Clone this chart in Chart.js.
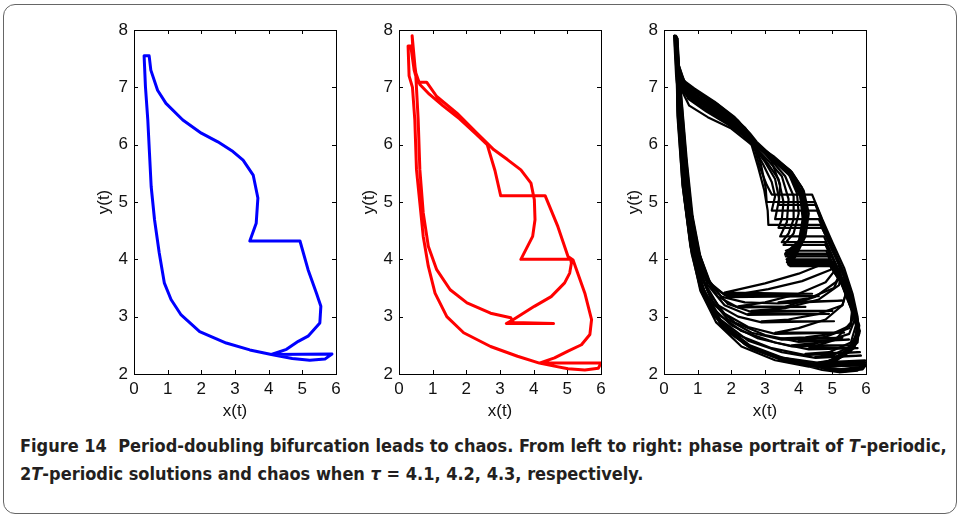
<!DOCTYPE html>
<html>
<head>
<meta charset="utf-8">
<script src="https://cdn.jsdelivr.net/npm/chart.js@4.4.1/dist/chart.umd.min.js"></script>
<style>
  body { margin: 0; background: #fff; width: 959px; height: 517px; overflow: hidden; position: relative; }
  .outline { position: absolute; left: 3px; top: 4px; width: 952px; height: 508px; border: 1.5px solid #666; border-radius: 12px; }
  canvas { position: absolute; top: 0; }
  #caption { position: absolute; left: 20px; top: 432px; font-family: "Liberation Sans Narrow", "DejaVu Sans Condensed", sans-serif; font-weight: bold; font-size: 18px; line-height: 28px; color: #231f20; white-space: nowrap; }
</style>
</head>
<body>
<div class="outline"></div>
<canvas id="p1" width="272" height="424" style="left:74px"></canvas>
<canvas id="p2" width="272" height="424" style="left:339px"></canvas>
<canvas id="p3" width="272" height="424" style="left:604px"></canvas>
<div id="caption">Figure 14&nbsp; Period-doubling bifurcation leads to chaos. From left to right: phase portrait of <i>T</i>-periodic,<br>2<i>T</i>-periodic solutions and chaos when <i>τ</i> = 4.1, 4.2, 4.3, respectively.</div>
<script>
// axis ticks shared by all three panels
var xTicks = [0, 1, 2, 3, 4, 5, 6];
var yTicks = [2, 3, 4, 5, 6, 7, 8];
var xTitle = "x(t)";
var yTitle = "y(t)";

// tau = 4.1 : T-periodic orbit
var orbitT = [
  [0.3,7.55],[0.45,7.55],[0.5,7.3],[0.7,6.95],[0.95,6.72],[1.45,6.43],[2.0,6.2],[2.49,6.05],
  [2.94,5.88],[3.24,5.73],[3.54,5.47],[3.68,5.07],[3.63,4.63],[3.44,4.32],[4.93,4.32],[5.17,3.82],
  [5.42,3.41],[5.55,3.18],[5.52,2.89],[5.17,2.66],[4.88,2.57],[4.53,2.43],[4.08,2.34],[5.88,2.35],
  [5.67,2.26],[5.22,2.24],[4.7,2.27],[4.08,2.34],[3.44,2.42],[2.74,2.54],[1.95,2.74],[1.4,3.03],
  [1.1,3.3],[0.9,3.59],[0.75,4.11],[0.61,4.69],[0.51,5.27],[0.46,5.85],[0.41,6.43],[0.34,7.01],[0.3,7.55]
];

// tau = 4.2 : 2T-periodic orbit
var orbit2T = [
  [0.39,7.9],[0.42,7.6],[0.5,7.25],[0.62,7.05],[0.9,6.88],[1.3,6.68],[1.8,6.45],[2.3,6.18],[2.62,6.0],
  [2.85,5.55],[3.02,5.11],[4.34,5.11],[4.72,4.57],[5.02,4.05],[5.17,3.99],[5.52,3.41],[5.72,2.95],
  [5.67,2.69],[5.42,2.51],[5.02,2.4],[4.62,2.28],[4.17,2.19],[6.0,2.19],[5.92,2.1],[5.52,2.07],
  [5.02,2.09],[4.5,2.15],[4.17,2.19],[3.52,2.31],[2.72,2.48],[1.92,2.72],[1.42,3.0],[1.07,3.41],
  [0.87,3.88],[0.72,4.4],[0.62,4.98],[0.52,5.56],[0.47,6.43],[0.4,7.0],[0.3,7.2],[0.27,7.72],
  [0.35,7.72],[0.45,7.3],[0.55,7.09],[0.82,7.09],[1.12,6.84],[1.72,6.55],[2.32,6.2],[2.82,5.91],
  [3.22,5.74],[3.62,5.56],[3.92,5.33],[4.02,5.04],[4.04,4.69],[3.97,4.4],[3.62,4.0],[5.1,4.0],
  [5.12,3.93],[5.07,3.76],[4.92,3.59],[4.52,3.35],[4.02,3.18],[3.4,2.95],[3.19,2.88],[4.59,2.88],
  [3.4,2.9],[3.32,2.98],[2.72,3.06],[2.02,3.24],[1.52,3.47],[1.12,3.82],[0.87,4.23],[0.72,4.81],
  [0.62,5.56],[0.57,6.43],[0.5,7.2],[0.39,7.9]
];

// tau = 4.3 : chaotic trajectory, traced loop by loop
var chaosLoops = [
  [[0.35,7.88],[0.4,7.4],[0.55,7.1],[0.85,6.95],[1.4,6.72],[2.0,6.45],[2.5,6.15],[2.65,6.02],[2.85,5.6],[3.05,5.3],[3.2,5.13],[4.4,5.13],[4.7,4.7],[5.0,4.3],[5.35,3.85],[5.6,3.4],[5.75,3.0],[5.78,2.75],[5.5,2.45],[5.0,2.25],[4.5,2.15],[5.98,2.2],[5.85,2.1],[5.3,2.06],[4.8,2.09],[4.5,2.15],[3.5,2.26],[2.5,2.48],[1.7,2.85],[1.2,3.35],[0.85,4.1],[0.6,5.2],[0.42,6.5],[0.35,7.88]],
  [[0.33,7.9],[0.42,7.3],[0.7,7.02],[1.2,6.85],[1.8,6.6],[2.4,6.3],[2.7,6.05],[2.9,5.6],[3.02,5.25],[3.05,5.0],[4.48,5.0],[4.75,4.6],[5.0,4.2],[5.2,3.9],[4.8,3.6],[4.0,3.4],[3.0,3.25],[2.2,3.18],[4.2,3.17],[2.2,3.16],[1.6,3.35],[1.2,3.7],[0.9,4.3],[0.7,5.1],[0.56,6.1],[0.44,7.0],[0.33,7.9]],
  [[0.3,7.9],[0.36,7.2],[0.6,6.9],[1.0,6.72],[1.6,6.5],[2.2,6.25],[2.6,6.02],[2.95,5.65],[3.2,5.35],[3.3,5.1],[3.2,4.85],[4.55,4.85],[4.85,4.4],[5.15,4.0],[5.4,3.6],[5.6,3.2],[5.55,2.9],[5.1,2.6],[4.3,2.45],[5.75,2.45],[4.3,2.43],[3.3,2.55],[2.3,2.75],[1.6,3.05],[1.15,3.5],[0.85,4.2],[0.62,5.2],[0.47,6.3],[0.3,7.9]],
  [[0.4,7.85],[0.48,7.0],[0.75,6.68],[1.3,6.48],[2.0,6.28],[2.6,6.0],[3.0,5.7],[3.3,5.4],[3.42,5.05],[3.3,4.7],[4.6,4.7],[4.9,4.3],[5.2,3.9],[5.25,3.75],[5.1,3.6],[4.5,3.35],[3.5,3.15],[2.5,3.05],[4.9,3.05],[2.5,3.03],[1.8,3.2],[1.3,3.55],[0.95,4.1],[0.75,4.9],[0.6,5.9],[0.45,7.0],[0.4,7.85]],
  [[0.35,7.88],[0.4,7.35],[0.6,7.05],[0.95,6.9],[1.5,6.68],[2.1,6.4],[2.6,6.05],[3.05,5.7],[3.4,5.4],[3.55,5.0],[3.5,4.7],[3.4,4.55],[4.7,4.55],[5.0,4.15],[5.3,3.8],[5.45,3.5],[5.3,3.2],[4.8,2.95],[4.0,2.8],[3.3,2.72],[5.35,2.72],[3.3,2.7],[2.5,2.82],[1.8,3.05],[1.3,3.45],[0.95,4.0],[0.72,4.9],[0.55,6.0],[0.42,7.0],[0.35,7.88]],
  [[0.32,7.9],[0.38,7.25],[0.62,6.95],[1.05,6.78],[1.7,6.55],[2.3,6.25],[2.65,6.0],[3.1,5.72],[3.5,5.45],[3.7,5.05],[3.65,4.65],[3.45,4.4],[4.75,4.4],[5.05,4.0],[5.35,3.6],[5.6,3.2],[5.65,3.05],[5.5,2.8],[4.8,2.65],[4.0,2.58],[5.5,2.6],[4.0,2.56],[3.0,2.68],[2.1,2.9],[1.5,3.2],[1.1,3.7],[0.82,4.5],[0.62,5.5],[0.46,6.7],[0.32,7.9]],
  [[0.38,7.86],[0.45,7.2],[0.68,6.85],[1.2,6.62],[1.9,6.38],[2.5,6.1],[2.7,6.0],[3.2,5.75],[3.7,5.5],[3.95,5.15],[4.0,4.8],[3.85,4.45],[3.55,4.25],[4.8,4.25],[4.95,4.05],[4.85,3.95],[4.0,3.75],[3.0,3.58],[1.8,3.42],[4.4,3.4],[1.8,3.38],[1.35,3.6],[1.05,4.1],[0.82,4.8],[0.65,5.8],[0.5,6.9],[0.38,7.86]],
  [[0.36,7.88],[0.4,7.45],[0.58,7.12],[0.9,6.98],[1.5,6.75],[2.1,6.48],[2.55,6.2],[2.75,6.05],[3.3,5.75],[3.8,5.45],[4.1,5.1],[4.2,4.7],[4.05,4.35],[3.6,4.1],[4.85,4.1],[5.15,3.75],[5.45,3.3],[5.7,2.95],[5.75,2.7],[5.45,2.42],[4.9,2.22],[4.4,2.18],[5.95,2.22],[5.8,2.12],[5.2,2.08],[4.7,2.12],[4.4,2.18],[3.4,2.3],[2.4,2.52],[1.6,2.95],[1.1,3.5],[0.8,4.2],[0.55,5.3],[0.4,6.5],[0.36,7.88]],
  [[0.33,7.9],[0.4,7.3],[0.65,7.0],[1.1,6.8],[1.7,6.55],[2.3,6.28],[2.65,6.05],[3.25,5.78],[3.75,5.52],[4.05,5.2],[4.2,4.8],[4.1,4.4],[3.85,4.1],[3.65,3.95],[4.9,3.95],[5.2,3.7],[5.05,3.5],[4.3,3.32],[3.4,3.25],[5.3,3.28],[3.4,3.23],[2.4,3.25],[1.7,3.35],[1.25,3.7],[0.95,4.3],[0.75,5.1],[0.6,6.1],[0.45,7.1],[0.33,7.9]],
  [[0.4,7.85],[0.45,7.15],[0.72,6.8],[1.25,6.58],[1.9,6.35],[2.45,6.12],[2.7,6.02],[3.2,5.8],[3.75,5.55],[4.1,5.25],[4.25,4.85],[4.15,4.4],[3.9,4.08],[3.7,3.9],[4.92,3.9],[5.3,3.55],[5.55,3.15],[5.7,2.85],[5.55,2.55],[4.9,2.38],[4.2,2.35],[5.82,2.38],[4.2,2.33],[3.2,2.45],[2.2,2.68],[1.5,3.0],[1.1,3.45],[0.82,4.1],[0.6,5.1],[0.46,6.2],[0.4,7.85]],
  [[0.34,7.89],[0.41,7.35],[0.6,7.05],[1.0,6.9],[1.6,6.65],[2.2,6.35],[2.62,6.05],[3.25,5.72],[3.75,5.45],[4.05,5.1],[4.12,4.7],[4.0,4.3],[3.62,4.05],[4.88,4.05],[5.2,3.7],[5.4,3.4],[5.3,3.2],[4.6,3.05],[3.7,2.95],[2.9,2.92],[5.05,2.92],[2.9,2.9],[2.2,3.0],[1.6,3.2],[1.2,3.6],[0.92,4.2],[0.72,5.0],[0.58,6.0],[0.44,7.0],[0.34,7.89]],
  [[0.31,7.9],[0.37,7.3],[0.55,7.0],[0.9,6.82],[1.5,6.6],[2.1,6.33],[2.6,6.0],[2.8,5.6],[2.98,5.2],[3.08,4.85],[3.1,4.6],[4.65,4.6],[4.95,4.25],[5.3,3.8],[5.55,3.35],[5.75,2.95],[5.8,2.7],[5.55,2.4],[5.0,2.2],[4.6,2.12],[6.0,2.16],[5.9,2.08],[5.4,2.05],[4.9,2.07],[4.6,2.12],[3.6,2.22],[2.6,2.44],[1.75,2.8],[1.25,3.3],[0.88,4.05],[0.62,5.1],[0.45,6.4],[0.31,7.9]],
  [[0.37,7.87],[0.43,7.4],[0.62,7.08],[1.0,6.92],[1.6,6.7],[2.2,6.42],[2.6,6.12],[2.8,6.0],[3.2,5.7],[3.45,5.3],[3.4,4.95],[4.5,4.95],[4.8,4.5],[5.1,4.1],[5.4,3.7],[5.6,3.3],[5.7,3.0],[5.5,2.7],[4.7,2.55],[3.8,2.5],[5.6,2.5],[3.8,2.48],[2.8,2.62],[2.0,2.85],[1.45,3.15],[1.05,3.65],[0.8,4.4],[0.6,5.4],[0.45,6.6],[0.37,7.87]],
  [[0.35,7.88],[0.42,7.2],[0.66,6.88],[1.15,6.7],[1.8,6.45],[2.4,6.18],[2.7,6.0],[3.3,5.7],[3.85,5.42],[4.15,5.05],[4.2,4.6],[4.0,4.2],[3.68,3.92],[4.9,3.92],[5.3,3.6],[5.6,3.2],[5.8,2.85],[5.75,2.55],[5.3,2.3],[4.7,2.17],[5.95,2.18],[5.85,2.09],[5.3,2.04],[4.9,2.08],[4.7,2.17],[3.7,2.22],[2.7,2.42],[1.8,2.78],[1.3,3.25],[0.9,4.0],[0.62,5.1],[0.44,6.4],[0.35,7.88]],
  [[0.36,7.9],[0.43,7.25],[0.7,6.92],[1.2,6.74],[1.85,6.5],[2.45,6.2],[2.72,6.03],[3.28,5.76],[3.8,5.48],[4.12,5.15],[4.25,4.75],[4.12,4.4],[3.85,4.2],[3.62,4.15],[4.82,4.15],[5.2,3.72],[5.5,3.25],[5.72,2.9],[5.7,2.6],[5.35,2.36],[4.8,2.2],[4.3,2.13],[5.9,2.15],[5.75,2.06],[5.2,2.03],[4.7,2.07],[4.3,2.13],[3.3,2.24],[2.3,2.48],[1.55,2.9],[1.08,3.45],[0.78,4.25],[0.55,5.3],[0.4,6.6],[0.36,7.9]],
  [[0.34,7.88],[0.4,7.35],[0.6,7.0],[1.05,6.82],[1.7,6.58],[2.3,6.3],[2.65,6.05],[3.22,5.76],[3.72,5.5],[4.02,5.18],[4.15,4.78],[4.05,4.35],[3.8,4.08],[3.64,4.0],[4.88,4.0],[5.1,3.9],[4.95,3.82],[4.1,3.62],[3.1,3.48],[1.9,3.36],[4.6,3.36],[1.9,3.34],[1.4,3.55],[1.08,4.05],[0.85,4.75],[0.68,5.7],[0.52,6.8],[0.34,7.88]],
  [[0.38,7.87],[0.44,7.3],[0.66,6.95],[1.1,6.78],[1.75,6.52],[2.35,6.25],[2.68,6.03],[3.25,5.8],[3.8,5.52],[4.15,5.2],[4.3,4.8],[4.2,4.4],[3.95,4.1],[3.75,3.88],[4.95,3.88],[5.35,3.5],[5.6,3.1],[5.55,2.85],[5.0,2.7],[4.2,2.64],[3.5,2.62],[5.3,2.63],[3.5,2.6],[2.6,2.72],[1.9,2.95],[1.4,3.3],[1.02,3.85],[0.78,4.6],[0.6,5.6],[0.45,6.8],[0.38,7.87]],
  [[0.32,7.9],[0.38,7.4],[0.57,7.08],[0.92,6.92],[1.55,6.68],[2.15,6.4],[2.58,6.1],[2.76,6.0],[3.2,5.72],[3.6,5.45],[3.85,5.1],[3.85,4.7],[3.7,4.45],[3.5,4.3],[4.78,4.3],[5.1,3.9],[5.4,3.45],[5.65,3.05],[5.82,2.75],[5.65,2.45],[5.15,2.25],[4.55,2.2],[5.97,2.24],[5.9,2.12],[5.45,2.07],[4.95,2.1],[4.55,2.2],[3.55,2.28],[2.55,2.5],[1.72,2.88],[1.22,3.4],[0.86,4.15],[0.62,5.2],[0.44,6.5],[0.32,7.9]],
  [[0.37,7.88],[0.44,7.2],[0.68,6.88],[1.2,6.68],[1.85,6.44],[2.42,6.16],[2.7,6.02],[3.28,5.74],[3.78,5.46],[4.08,5.12],[4.18,4.72],[4.05,4.32],[3.78,4.12],[3.6,4.08],[4.86,4.08],[5.25,3.72],[5.2,3.55],[4.6,3.3],[3.6,3.15],[2.6,3.1],[5.0,3.1],[2.6,3.08],[1.9,3.22],[1.35,3.58],[1.0,4.15],[0.78,4.95],[0.62,5.95],[0.46,7.0],[0.37,7.88]],
  [[0.33,7.9],[0.4,7.25],[0.63,6.92],[1.1,6.74],[1.75,6.5],[2.35,6.22],[2.66,6.04],[3.22,5.78],[3.74,5.5],[4.07,5.17],[4.22,4.78],[4.12,4.38],[3.88,4.12],[3.66,3.98],[4.9,3.98],[5.28,3.6],[5.58,3.15],[5.75,2.8],[5.6,2.5],[5.05,2.34],[4.5,2.3],[5.85,2.32],[4.5,2.28],[3.5,2.38],[2.5,2.58],[1.68,2.95],[1.18,3.42],[0.85,4.1],[0.6,5.15],[0.44,6.3],[0.33,7.9]]
];

Chart.defaults.font.family = "'Liberation Sans', Arial, sans-serif";
Chart.defaults.font.size = 17;
Chart.defaults.color = "#111";

// MATLAB-style box with inward ticks on all four sides
var boxTicks = {
  id: "boxTicks",
  afterDraw: function (chart) {
    var ctx = chart.ctx, a = chart.chartArea, x = chart.scales.x, y = chart.scales.y;
    ctx.save();
    ctx.strokeStyle = "#000";
    ctx.lineWidth = 1;
    ctx.beginPath();
    xTicks.forEach(function (v) {
      var px = Math.round(x.getPixelForValue(v)) + 0.5;
      ctx.moveTo(px, a.bottom); ctx.lineTo(px, a.bottom - 4);
      ctx.moveTo(px, a.top); ctx.lineTo(px, a.top + 4);
    });
    yTicks.forEach(function (v) {
      var py = Math.round(y.getPixelForValue(v)) + 0.5;
      ctx.moveTo(a.left, py); ctx.lineTo(a.left + 4, py);
      ctx.moveTo(a.right, py); ctx.lineTo(a.right - 4, py);
    });
    ctx.stroke();
    ctx.strokeRect(Math.round(a.left) + 0.5, Math.round(a.top) + 0.5, Math.round(a.width), Math.round(a.height));
    ctx.restore();
  }
};

function toPoints(list) {
  return list.map(function (p) { return { x: p[0], y: p[1] }; });
}

function makePanel(id, datasets) {
  new Chart(document.getElementById(id), {
    type: "scatter",
    data: { datasets: datasets },
    options: {
      responsive: false,
      animation: false,
      layout: { padding: { top: 30, right: 10, left: 0, bottom: 0 } },
      plugins: { legend: { display: false }, tooltip: { enabled: false } },
      elements: { point: { radius: 0 }, line: { borderJoinStyle: "round", borderCapStyle: "round" } },
      scales: {
        x: {
          type: "linear", min: 0, max: 6,
          afterFit: function (s) { s.height = 50; },
          afterBuildTicks: function (s) { s.ticks = xTicks.map(function (v) { return { value: v }; }); },
          grid: { display: false, drawTicks: false },
          border: { display: false },
          ticks: { padding: 5, color: "#111" },
          title: { display: true, text: xTitle, color: "#111", padding: { top: 0, bottom: 2 } }
        },
        y: {
          type: "linear", min: 2, max: 8,
          afterFit: function (s) { s.width = 60; },
          afterBuildTicks: function (s) { s.ticks = yTicks.map(function (v) { return { value: v }; }); },
          grid: { display: false, drawTicks: false },
          border: { display: false },
          ticks: { padding: 6, color: "#111" },
          title: { display: true, text: yTitle, color: "#111", padding: { top: 20, bottom: 0 } }
        }
      }
    },
    plugins: [boxTicks]
  });
}

makePanel("p1", [{ data: toPoints(orbitT), showLine: true, borderColor: "#0000ff", borderWidth: 3 }]);
makePanel("p2", [{ data: toPoints(orbit2T), showLine: true, borderColor: "#ff0000", borderWidth: 3 }]);
makePanel("p3", chaosLoops.map(function (loop) {
  return { data: toPoints(loop), showLine: true, borderColor: "#000", borderWidth: 2.2 };
}));
</script>
</body>
</html>
